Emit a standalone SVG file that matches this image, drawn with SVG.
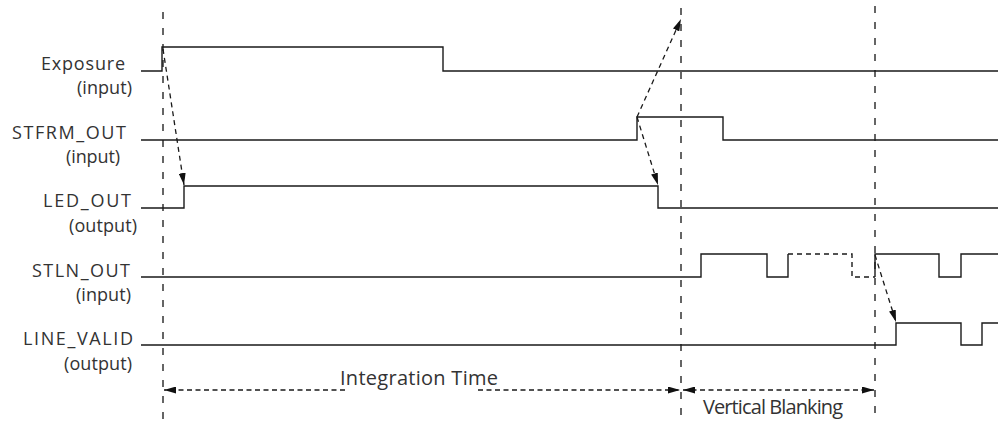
<svg xmlns="http://www.w3.org/2000/svg" width="998" height="421" viewBox="0 0 998 421">
<style>
.sig{fill:none;stroke:#1a1a1a;stroke-width:1.4}
.sigd{fill:none;stroke:#1a1a1a;stroke-width:1.4;stroke-dasharray:5 4}
.guide{fill:none;stroke:#333;stroke-width:1.5;stroke-dasharray:7 9}
.arr{fill:none;stroke:#1a1a1a;stroke-width:1.3;stroke-dasharray:5 4}
.dim{fill:none;stroke:#1a1a1a;stroke-width:1.3;stroke-dasharray:5 3.5}
.lbl{font-family:"Open Sans","Liberation Sans",sans-serif;font-size:18px;fill:#333}
.big{font-family:"Open Sans","Liberation Sans",sans-serif;font-size:20px;fill:#333}
</style>
<defs>
<marker id="ah" viewBox="0 0 12 7" refX="12" refY="3.5" markerWidth="12" markerHeight="7" markerUnits="userSpaceOnUse" orient="auto-start-reverse">
<path d="M0,0 L12,3.5 L0,7 z" fill="#111"/>
</marker>
</defs>
<rect width="998" height="421" fill="#fff"/>
<g id="guides">
<path class="guide" d="M163,12 V421"/>
<path class="guide" d="M681,8 V421"/>
<path class="guide" d="M875,6 V421"/>
</g>
<g id="exposure">
<path class="sig" d="M141,71 H162 V47 H443 V71 H998"/>
<text class="lbl" x="41" y="70" textLength="84" lengthAdjust="spacing">Exposure</text>
<text class="lbl" x="77" y="94" textLength="55" lengthAdjust="spacing">(input)</text>
</g>
<g id="stfrm_out">
<path class="sig" d="M141,140 H637 V117 H723 V140 H998"/>
<text class="lbl" x="12" y="139" textLength="114" lengthAdjust="spacing">STFRM_OUT</text>
<text class="lbl" x="66" y="163" textLength="54" lengthAdjust="spacing">(input)</text>
</g>
<g id="led_out">
<path class="sig" d="M141,208 H184 V186 H658 V208 H998"/>
<text class="lbl" x="43" y="207" textLength="88" lengthAdjust="spacing">LED_OUT</text>
<text class="lbl" x="69" y="232" textLength="68" lengthAdjust="spacing">(output)</text>
</g>
<g id="stln_out">
<path class="sig" d="M141,277 H701 V254 H767 V277 H788 V254"/>
<path class="sigd" d="M788,254 H852 V277 H875"/>
<path class="sig" d="M875,277 V254 H939 V277 H961 V254 H998"/>
<text class="lbl" x="32" y="277" textLength="98" lengthAdjust="spacing">STLN_OUT</text>
<text class="lbl" x="76" y="301" textLength="55" lengthAdjust="spacing">(input)</text>
</g>
<g id="line_valid">
<path class="sig" d="M141,345 H896 V323 H961 V345 H982 V323 H998"/>
<text class="lbl" x="23" y="345" textLength="110" lengthAdjust="spacing">LINE_VALID</text>
<text class="lbl" x="64" y="370" textLength="68" lengthAdjust="spacing">(output)</text>
</g>
<g id="connectors">
<path class="arr" d="M163,49 L184,185" marker-end="url(#ah)"/>
<path class="arr" d="M637,117 L681,19" marker-end="url(#ah)"/>
<path class="arr" d="M637,117 L658,185" marker-end="url(#ah)"/>
<path class="arr" d="M875,255 L896,322" marker-end="url(#ah)"/>
<path class="dim" d="M345,390 H164" marker-end="url(#ah)"/>
<path class="dim" d="M478,390 H680" marker-end="url(#ah)"/>
<path class="dim" d="M683,390 H874" marker-start="url(#ah)" marker-end="url(#ah)"/>
</g>
<g id="dimension-labels">
<text class="big" x="340" y="385" textLength="158" lengthAdjust="spacing">Integration Time</text>
<text class="big" x="703" y="414" textLength="140" lengthAdjust="spacing">Vertical Blanking</text>
</g>
</svg>
